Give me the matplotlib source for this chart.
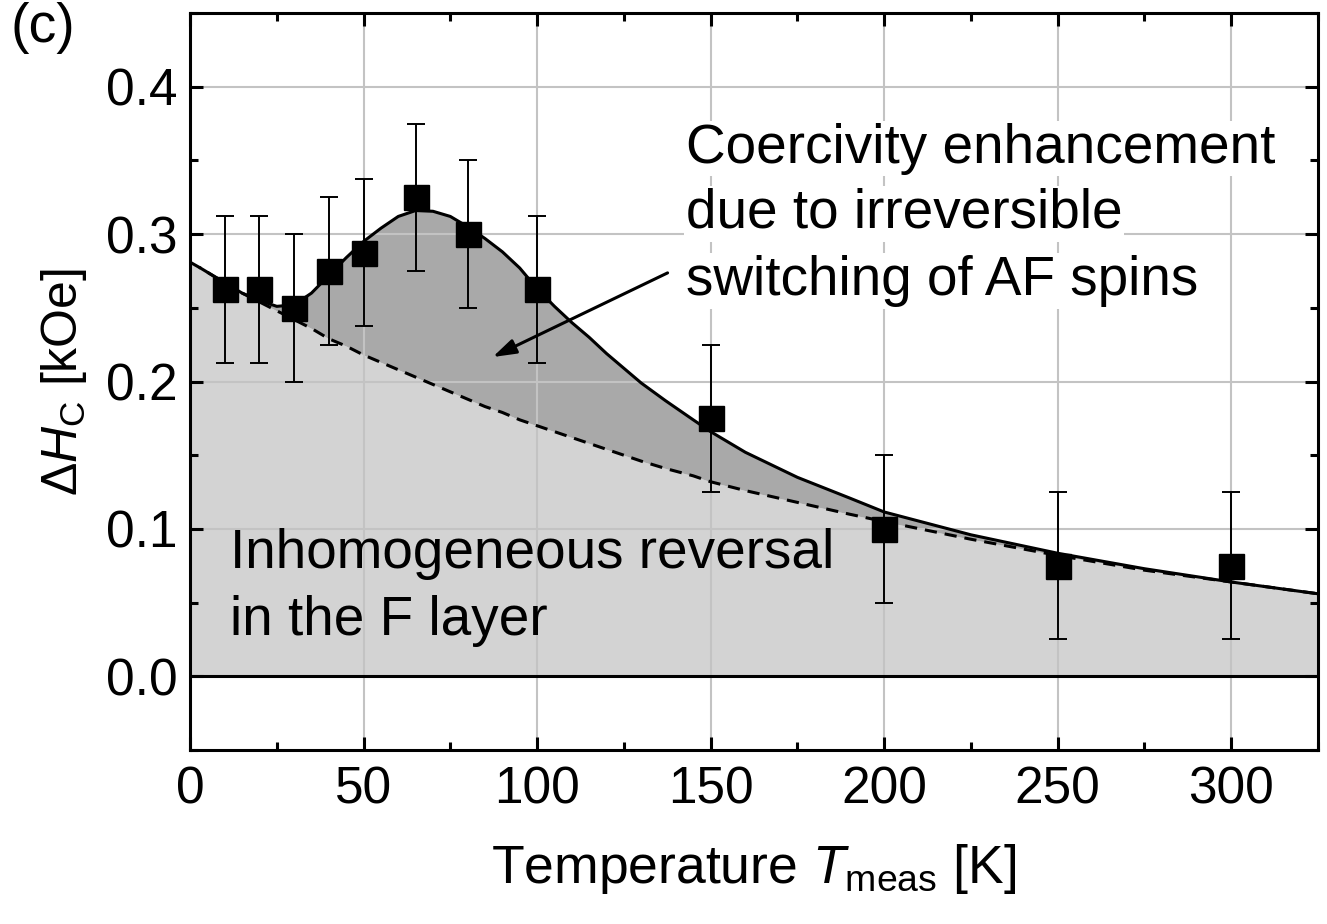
import matplotlib
matplotlib.use("Agg")
import matplotlib.pyplot as plt
from matplotlib.ticker import MultipleLocator

plt.rcParams['font.family'] = ['Liberation Sans', 'DejaVu Sans']
plt.rcParams['mathtext.fontset'] = 'custom'
plt.rcParams['mathtext.rm'] = 'Liberation Sans'
plt.rcParams['mathtext.it'] = 'Liberation Sans:italic'

# measured points
T_meas = [10, 20, 30, 40, 50, 65, 80, 100, 150, 200, 250, 300]
dHc = [0.2625, 0.2625, 0.25, 0.275, 0.2875, 0.325, 0.30, 0.2625, 0.175, 0.10, 0.075, 0.075]
dHc_err = [0.05] * len(T_meas)

# fit curves on a common temperature grid
T_fit = [0, 3, 10, 15, 20, 25, 30, 35, 40, 45, 50, 55, 60, 65, 70, 75, 80, 85, 90, 95, 100,
         105, 110, 115, 120, 125, 130, 137, 145, 150, 160, 175, 190, 200, 225, 250, 275, 300, 325]
# dashed: inhomogeneous reversal in the F layer
fit_base = [0.281, 0.277, 0.267, 0.260, 0.254, 0.248, 0.242, 0.236, 0.229, 0.224, 0.218, 0.213,
            0.208, 0.203, 0.198, 0.193, 0.188, 0.183, 0.179, 0.174, 0.170, 0.166, 0.162, 0.158,
            0.154, 0.150, 0.146, 0.141, 0.136, 0.132, 0.126, 0.118, 0.110, 0.105, 0.093, 0.082,
            0.072, 0.064, 0.056]
# solid: total coercivity
fit_total = [0.281, 0.277, 0.267, 0.260, 0.255, 0.251, 0.252, 0.260, 0.272, 0.284, 0.295, 0.304,
             0.312, 0.316, 0.3155, 0.312, 0.305, 0.297, 0.288, 0.277, 0.263, 0.251, 0.240, 0.230,
             0.219, 0.209, 0.199, 0.187, 0.174, 0.166, 0.152, 0.135, 0.121, 0.1115, 0.096, 0.0835,
             0.073, 0.064, 0.056]

fig = plt.figure(figsize=(13.27, 9.24), dpi=100)
ax = fig.add_axes([0.1432, 0.1883, 0.8500, 0.7976])

ax.fill_between(T_fit, 0, fit_base, color='#d3d3d3', lw=0, zorder=0.1)
ax.fill_between(T_fit, fit_base, fit_total, color='#a9a9a9', lw=0, zorder=0.15)

ax.grid(True, which='major', color='#c3c3c3', lw=1.5)
ax.set_axisbelow(True)

ax.axhline(0, color='black', lw=2.2, zorder=2)
ax.plot(T_fit, fit_base, color='black', lw=2.2, ls=(0, (4, 2.6)), zorder=2)
ax.plot(T_fit[1:], fit_total[1:], color='black', lw=2.2, zorder=2.1)
ax.errorbar(T_meas, dHc, yerr=dHc_err, fmt='none', ecolor='black', elinewidth=1.4,
            capsize=6.5, capthick=1.4, zorder=3)
ax.plot(T_meas, dHc, 's', color='black', ms=18, zorder=4)

ax.annotate('', xy=(87.2, 0.2166), xytext=(137.6, 0.2737),
            arrowprops=dict(arrowstyle='-|>,head_length=1.4,head_width=0.45', color='black', lw=2.2,
                            shrinkA=0, shrinkB=0), zorder=3)

for txt, yb in [('Coercivity enhancement', 0.3484), ('due to irreversible', 0.3042),
                ('switching of AF spins', 0.2587)]:
    ax.text(142.8, yb, txt, fontsize=39.5, va='baseline', ha='left', zorder=5,
            bbox=dict(facecolor='white', edgecolor='none', pad=1))

ax.text(11.5, 0.0733, 'Inhomogeneous reversal', fontsize=39.5, va='baseline', ha='left', zorder=5)
ax.text(11.5, 0.0278, 'in the F layer', fontsize=39.5, va='baseline', ha='left', zorder=5)

ax.set_xlim(0, 325)
ax.set_ylim(-0.05, 0.45)
ax.xaxis.set_major_locator(MultipleLocator(50))
ax.xaxis.set_minor_locator(MultipleLocator(25))
ax.yaxis.set_major_locator(MultipleLocator(0.1))
ax.yaxis.set_minor_locator(MultipleLocator(0.05))
ax.set_yticks([0.0, 0.1, 0.2, 0.3, 0.4])
ax.set_yticklabels(['0.0', '0.1', '0.2', '0.3', '0.4'])

ax.tick_params(which='both', direction='in', top=True, right=True, width=2.2, labelsize=37)
ax.tick_params(which='major', length=9.4, pad=11)
ax.tick_params(which='minor', length=5.8)
ax.tick_params(axis='y', which='major', pad=9)
for s in ax.spines.values():
    s.set_linewidth(2.2)

ax.set_xlabel('Temperature $T_\\mathrm{meas}$ [K]', fontsize=38.5, labelpad=20)
ax.set_ylabel('Δ$H_\\mathrm{C}$ [kOe]', fontsize=36, labelpad=12)

fig.text(0.008, 0.998, '(c)', fontsize=40, va='top', ha='left')

fig.savefig('out.png', dpi=100)
